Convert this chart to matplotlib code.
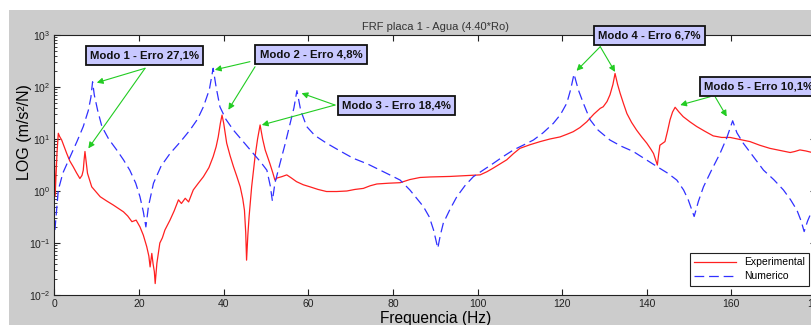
import matplotlib
matplotlib.use("Agg")
import matplotlib.pyplot as plt
from matplotlib.patches import Rectangle
import numpy as np

# ---------------- data ----------------
num_freq = [0.1, 0.9, 2.0, 3.7, 5.3, 6.8, 8.0, 8.6, 9.0, 9.4, 10.2, 11.2, 12.8, 14.7, 16.3,
            17.8, 19.2, 20.2, 21.0, 21.6, 22.2, 23.4, 25.2, 27.3, 29.8, 32.0, 33.8, 35.2,
            36.6, 37.5, 38.2, 39.1, 40.5, 42.3, 44.6, 47.0, 48.8, 50.2, 51.0, 51.5, 52.1,
            53.3, 54.5, 55.7, 56.6, 57.3, 58.2, 59.6, 61.5, 64.3, 67.5, 70.6, 74.0, 77.0,
            79.5, 81.7, 84.0, 86.0, 87.2, 88.6, 89.6, 90.6, 91.2, 91.9, 93.5, 95.1, 97.0,
            99.0, 101.3, 103.7, 106.0, 108.5, 111.0, 113.2, 115.5, 117.9, 119.6, 121.1,
            122.0, 122.8, 123.8, 125.0, 126.6, 128.5, 131.3, 134.0, 136.8, 139.5, 142.4,
            145.0, 147.1, 148.7, 149.8, 151.2, 152.2, 153.4, 155.3, 157.3, 158.9, 160.3,
            161.3, 162.8, 165.2, 167.6, 170.0, 172.3, 174.0, 175.5, 176.5, 177.2, 178.0,
            179.1, 180.0]
num_log = [-0.75, 0.02, 0.35, 0.66, 0.95, 1.24, 1.55, 1.80, 2.10, 1.85, 1.55, 1.24, 1.00,
           0.79, 0.60, 0.40, 0.15, -0.11, -0.40, -0.69, -0.30, 0.15, 0.48, 0.72, 0.95, 1.17,
           1.38, 1.62, 1.95, 2.36, 2.00, 1.62, 1.38, 1.17, 0.95, 0.72, 0.55, 0.40, 0.10,
           -0.19, 0.15, 0.53, 0.90, 1.30, 1.60, 1.93, 1.55, 1.24, 1.07, 0.92, 0.77, 0.63,
           0.52, 0.40, 0.30, 0.21, 0.02, -0.18, -0.30, -0.50, -0.75, -1.10, -0.85, -0.62,
           -0.35, -0.11, 0.10, 0.275, 0.40, 0.53, 0.66, 0.79, 0.89, 0.98, 1.12, 1.30, 1.47,
           1.69, 1.95, 2.25, 1.95, 1.69, 1.37, 1.17, 0.98, 0.86, 0.76, 0.62, 0.47, 0.34,
           0.21, 0.02, -0.17, -0.49, -0.20, 0.08, 0.40, 0.72, 1.02, 1.35, 1.12, 0.92, 0.66,
           0.40, 0.22, 0.02, -0.17, -0.37, -0.58, -0.78, -0.58, -0.37, -0.20]

exp_freq = [0.0, 0.15, 0.35, 0.6, 0.9, 1.2, 1.7, 2.3, 2.9, 3.6, 4.4, 5.2, 6.0, 6.5, 6.8, 7.0,
            7.2, 7.5, 7.8, 8.8, 10.8, 12.3, 13.9, 15.0, 16.3, 17.3, 18.3, 19.3, 20.2, 21.0,
            21.8, 22.3, 22.6, 23.0, 23.3, 23.6, 23.8, 24.2, 24.9, 25.5, 26.1, 27.3, 28.3,
            29.3, 30.0, 30.9, 31.7, 32.8, 34.0, 35.2, 36.5, 37.5, 38.2, 38.7, 39.2, 39.6,
            40.0, 40.7, 41.5, 42.3, 43.1, 43.9, 44.5, 44.9, 45.2, 45.4, 45.7, 46.0, 46.6,
            47.4, 48.0, 48.6, 49.2, 49.8, 50.9, 51.6, 52.1, 52.6, 53.7, 54.9, 56.0, 57.2,
            58.8, 60.4, 62.3, 64.3, 66.7, 69.1, 71.0, 73.0, 74.6, 76.2, 79.0, 81.7, 84.0,
            86.4, 88.8, 91.1, 93.5, 95.9, 98.3, 100.6, 102.2, 103.7, 105.3, 106.9, 108.5,
            110.0, 112.4, 114.8, 117.1, 119.5, 121.1, 122.6, 124.2, 125.8, 126.6, 127.5,
            129.0, 129.7, 130.6, 131.3, 132.0, 132.5, 133.1, 133.7, 134.5, 135.3, 136.4,
            137.6, 138.8, 140.0, 141.0, 141.6, 142.1, 142.5, 142.8, 143.1, 144.3, 144.9,
            145.5, 146.1, 146.7, 147.6, 148.6, 150.2, 151.8, 153.7, 155.7, 157.7, 159.7,
            162.0, 164.4, 166.7, 169.1, 171.5, 173.9, 175.0, 176.2, 177.6, 179.1, 180.0]
exp_log = [0.55, -0.10, 0.30, 0.75, 1.11, 1.05, 0.98, 0.85, 0.72, 0.58, 0.47, 0.35, 0.24,
           0.30, 0.40, 0.60, 0.76, 0.55, 0.34, 0.08, -0.11, -0.19, -0.27, -0.33, -0.40,
           -0.48, -0.59, -0.56, -0.69, -0.85, -1.07, -1.25, -1.46, -1.20, -1.40, -1.55,
           -1.78, -1.39, -1.00, -0.90, -0.75, -0.56, -0.38, -0.17, -0.24, -0.14, -0.21,
           0.02, 0.15, 0.275, 0.45, 0.66, 0.85, 1.04, 1.30, 1.46, 1.30, 0.92, 0.68, 0.47,
           0.28, 0.08, -0.15, -0.37, -0.80, -1.33, -0.85, -0.49, 0.08, 0.66, 1.00, 1.27,
           1.00, 0.79, 0.53, 0.35, 0.21, 0.25, 0.275, 0.31, 0.25, 0.18, 0.12, 0.08, 0.03,
           -0.01, -0.01, 0.0, 0.03, 0.05, 0.10, 0.135, 0.15, 0.16, 0.22, 0.26, 0.27, 0.275,
           0.28, 0.29, 0.30, 0.31, 0.37, 0.44, 0.52, 0.60, 0.72, 0.82, 0.89, 0.95, 1.00,
           1.04, 1.09, 1.14, 1.22, 1.33, 1.40, 1.48, 1.59, 1.62, 1.72, 1.85, 2.05, 2.26,
           2.05, 1.88, 1.68, 1.49, 1.32, 1.17, 1.04, 0.92, 0.80, 0.72, 0.60, 0.50, 0.70,
           0.88, 0.95, 1.15, 1.37, 1.52, 1.61, 1.52, 1.43, 1.33, 1.24, 1.15, 1.06, 1.03,
           1.03, 0.99, 0.95, 0.88, 0.82, 0.78, 0.74, 0.76, 0.79, 0.77, 0.74, 0.72]

series_labels = ["Experimental", "Numerico"]
x_ticks = [0, 20, 40, 60, 80, 100, 120, 140, 160, 180]
y_ticks = [1e-2, 1e-1, 1e0, 1e1, 1e2, 1e3]

mode_labels = ["Modo 1 - Erro 27,1%", "Modo 2 - Erro 4,8%", "Modo 3 - Erro 18,4%",
               "Modo 4 - Erro 6,7%", "Modo 5 - Erro 10,1%"]
# box centres (freq, value), arrow origins and targets
box_pos = [(21.3, 408), (60.6, 422), (80.8, 43.5), (140.7, 980), (166.5, 103)]
arrow_from = [[(21.4, 229), (21.4, 229)],
              [(46.2, 307), (47.4, 245)],
              [(66.3, 45), (66.3, 45)],
              [(129.0, 596), (129.0, 596)],
              [(155.0, 65), (156.2, 64)]]
arrow_to = [[(10.0, 121), (8.0, 6.6)],
            [(37.9, 214), (41.1, 36.5)],
            [(58.4, 76), (49.0, 18.6)],
            [(123.4, 205), (132.5, 195)],
            [(147.9, 45), (158.9, 27)]]

# ---------------- figure ----------------
plt.rcParams['font.family'] = ['Liberation Sans', 'DejaVu Sans']
plt.rcParams['mathtext.default'] = 'regular'
plt.rcParams['lines.scale_dashes'] = False

W, H = 812, 325
fig = plt.figure(figsize=(W / 100, H / 100), dpi=100, facecolor='white')
fig.patches.append(Rectangle((9 / W, 0), 1, 1 - 10 / H, transform=fig.transFigure,
                             facecolor='#cccccc', edgecolor='none', zorder=-10))

ax = fig.add_axes([54.5 / W, (H - 295) / H, (816 - 54.5) / W, 260 / H])
ax.set_facecolor('white')

exp_vals = np.power(10.0, exp_log)
num_vals = np.power(10.0, num_log)
ax.plot(exp_freq, exp_vals, color='#ff2020', lw=0.9, label=series_labels[0])
ax.plot(num_freq, num_vals, color='#3030ff', lw=0.9, dashes=(7, 3.5), label=series_labels[1])

ax.set_yscale('log')
ax.set_xlim(0, 180)
ax.set_ylim(1e-2, 1e3)
ax.set_xticks(x_ticks)
ax.set_yticks(y_ticks)

ax.tick_params(which='both', direction='in', top=True, right=True, labelsize=7.5,
               colors='#222222', pad=3)
ax.tick_params(which='major', length=4, width=0.8)
ax.tick_params(which='minor', length=2, width=0.6)
for s in ax.spines.values():
    s.set_color('#222222')
    s.set_linewidth(0.8)

ax.set_title("FRF placa 1 - Agua (4.40*Ro)", fontsize=8, color='#333333', pad=3.5)
ax.set_xlabel("Frequencia (Hz)", fontsize=11.2, labelpad=1)
ax.set_ylabel("LOG (m/s²/N)", fontsize=11.5)
ax.yaxis.set_label_coords(-0.030, 0.625)

leg = ax.legend(loc='lower right', bbox_to_anchor=(0.9908, 0.036), borderaxespad=0,
                fontsize=7.5, fancybox=False, edgecolor='#222222', framealpha=1,
                handlelength=4.0, borderpad=0.4, labelspacing=0.4)
leg.get_frame().set_linewidth(0.8)

green = '#22cc22'
for lab, bp, afs, ats in zip(mode_labels, box_pos, arrow_from, arrow_to):
    for af, at in zip(afs, ats):
        ax.annotate('', xy=at, xytext=af,
                    arrowprops=dict(arrowstyle='-|>', color=green, lw=0.8,
                                    mutation_scale=9, shrinkA=0, shrinkB=0),
                    zorder=5, annotation_clip=False)
    ax.text(bp[0], bp[1], lab, ha='center', va='center', fontsize=8.2,
            fontweight='bold', color='#111111', zorder=6, clip_on=False,
            bbox=dict(boxstyle='square,pad=0.38', facecolor='#c8c8ff',
                      edgecolor='#111111', linewidth=1.3))

fig.savefig('out.png', dpi=100, facecolor=fig.get_facecolor())
